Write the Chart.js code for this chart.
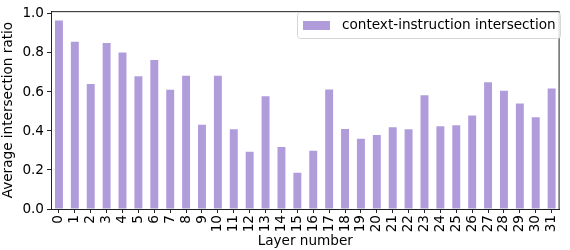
<!DOCTYPE html>
<html>
<head>
<meta charset="utf-8">
<script src="https://cdn.jsdelivr.net/npm/chart.js@4"></script>
<style>
  html, body { margin: 0; padding: 0; background: #fff; }
  #wrap { width: 570px; height: 250px; }
</style>
</head>
<body>
<div id="wrap"><canvas id="chart"></canvas></div>
<script>
// layer ids 0..31
const layers = ['0','1','2','3','4','5','6','7','8','9','10','11','12','13','14','15',
                '16','17','18','19','20','21','22','23','24','25','26','27','28','29','30','31'];
// average intersection ratio per layer
const ratios = [0.966, 0.858, 0.641, 0.851, 0.802, 0.680, 0.764, 0.611, 0.683, 0.432, 0.683, 0.409,
                0.293, 0.578, 0.318, 0.186, 0.298, 0.613, 0.410, 0.360, 0.380, 0.419, 0.409, 0.583,
                0.424, 0.430, 0.479, 0.650, 0.606, 0.541, 0.471, 0.618];
const yTicks = [0, 0.2, 0.4, 0.6, 0.8, 1.0];
const seriesName = 'context-instruction intersection';

const FONT = 'DejaVu Sans';
const FS = 13.6;
const barColor = '#b19cdb';

// full box around the plot + legend drawn inside upper right
const framePlugin = {
    id: 'frame',
    afterDraw(chart) {
        const { ctx, chartArea: a } = chart;
        ctx.save();
        ctx.strokeStyle = '#222';
        ctx.lineWidth = 1;
        ctx.strokeRect(a.left + 0.5, a.top + 0.5, a.right - a.left - 1, a.bottom - a.top);

        // legend
        const ds = chart.data.datasets[0];
        const bx = 297, by = 12, bw = 263, bh = 26;
        ctx.fillStyle = 'rgba(255,255,255,0.8)';
        ctx.strokeStyle = '#d6d6d6';
        ctx.beginPath();
        ctx.roundRect(bx + 0.5, by + 0.5, bw, bh, 3);
        ctx.fill();
        ctx.stroke();
        ctx.fillStyle = ds.backgroundColor;
        ctx.fillRect(bx + 6, by + 9, 27, 9);
        ctx.fillStyle = '#000';
        ctx.font = FS + 'px "' + FONT + '"';
        ctx.textBaseline = 'middle';
        ctx.fillText(ds.label, bx + 45, by + 13.5);
        ctx.restore();
    }
};

new Chart(document.getElementById('chart'), {
    type: 'bar',
    data: {
        labels: layers,
        datasets: [{
            label: seriesName,
            data: ratios,
            backgroundColor: barColor,
            borderWidth: 0,
            barPercentage: 0.5,
            categoryPercentage: 1.0
        }]
    },
    options: {
        responsive: true,
        maintainAspectRatio: false,
        animation: false,
        layout: { padding: { top: 7, right: 3, left: 0, bottom: 0 } },
        plugins: {
            legend: { display: false },
            tooltip: { enabled: false }
        },
        scales: {
            x: {
                offset: true,
                grid: { display: true, drawOnChartArea: false, drawTicks: true, tickLength: 4, color: '#222', offset: false },
                border: { display: true, color: '#222' },
                ticks: {
                    color: '#000', font: { family: FONT, size: FS },
                    minRotation: 90, maxRotation: 90, autoSkip: false, padding: 2
                },
                title: {
                    display: true, text: 'Layer number', color: '#000',
                    font: { family: FONT, size: FS }, padding: { top: 0, bottom: 0 }
                },
                afterFit(scale) { scale.height = 41; }
            },
            y: {
                min: 0,
                max: 1.0143,
                grid: { display: true, drawOnChartArea: false, drawTicks: true, tickLength: 4, color: '#222' },
                border: { display: true, color: '#222' },
                ticks: {
                    color: '#000', font: { family: FONT, size: FS }, padding: 3,
                    callback: v => v.toFixed(1)
                },
                afterBuildTicks(scale) { scale.ticks = yTicks.map(v => ({ value: v })); },
                title: {
                    display: true, text: 'Average intersection ratio', color: '#000',
                    font: { family: FONT, size: FS }, padding: { top: 0, bottom: 1 }
                },
                afterFit(scale) { scale.width = 51; }
            }
        }
    },
    plugins: [framePlugin]
});
</script>
</body>
</html>
